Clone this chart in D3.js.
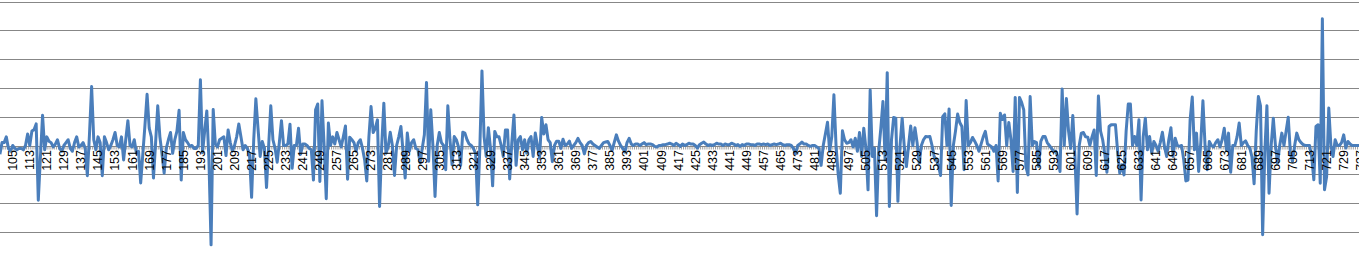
<!DOCTYPE html>
<html>
<head>
<meta charset="utf-8">
<script src="https://cdn.jsdelivr.net/npm/d3@7"></script>
<style>
  body { margin: 0; background: #fff; overflow: hidden; }
  svg { display: block; }
</style>
</head>
<body>
<svg id="chart"></svg>
<script>
// Category numbers shown on the x axis (first visible category is 99)
const firstCategory = 99;
const lastCategory = 737;
const categories = d3.range(firstCategory, lastCategory + 1);

// Series values, one per category (99 ... 737)
const values = [
  -3, 1, 1, 3, -1, -2, 0, -1, -1.5, -1,            // 99
  -1, -1.5, 0, 4, 0, 5, 5.5, 7.5, -19, -4,         // 109
  10.5, -1.5, 3, 1.5, 1, -0.5, 0.5, 2, -1, -2,     // 119
  0, 1, 2, -1, -2, 1, 3, -0.5, 0, 1,               // 129
  -1, -10.5, 4, 20.5, 2, -1.5, 3, 1, -10.5, 3,     // 139
  1, -1.5, 0, 2, 4.5, 0, -0.5, 3, -5, 2,           // 149
  8.6, 0, -0.5, 2, -2.7, -2, -13, -3, 7, 17.8,     // 159
  6, 3, -11.3, 1, 13.8, 3, -3, -9.6, -1, 2,        // 169
  4.5, -2.7, 2, 5, 12.2, -12, 4.5, 2, 1, -0.3,     // 179
  0, -1, -1, 0, 22.8, -2.5, 5, 12, -5, -34.5,      // 189
  12.5, 0.5, -0.5, 2, 2.5, 3, -3.5, 5.4, 1, -2,    // 199
  0, 3, 7.5, 3, -1.5, 0, -1, -3, -18, 2,           // 209
  16.2, 6, -3.8, 1.4, -1, -14.6, 0, 13.8, 2, -1,   // 219
  -5.8, 1, 8.6, 0, 0, 0.5, 7.4, -7.9, 0, 0,        // 229
  6, -3, 0.5, 0.5, 0, -1, -1.5, -12, 12.4, 14.4,   // 239
  -12.5, 15.5, 0, -18.5, 7.8, 0, 3, 0.5, 4.5, 2,   // 249
  -0.5, 3, 6.8, -11.7, 2.9, 2, 1, -2, 1, 2,        // 259
  -1, -5, -12.3, 3, 13.5, 4.5, 6, 8.9, -21.2, 0,   // 269
  14.7, -2.7, -0.5, 4.6, 0, -10.4, 0, 3, 6.6, -2,  // 279
  -11.3, 4.3, -2, 1, 2, -1, -1.5, -6, -1, 3.7,     // 289
  21.9, -5.5, 12.4, 0, -17.7, 0, 4.5, 1, 0, -8.4,  // 299
  13.8, 2, -6.7, 3.1, 2, -0.5, -6.9, 4.6, 4.3, 2,  // 309
  0.5, 0, -1, -2.7, -20.6, -1, 25.9, 3, -3.8, 6.2, // 319
  -1, -14, 4.9, 3, 3, 0, -3.8, 5.4, 5.4, -11.6,    // 329
  1, 10.6, -6.9, 2, 3.1, -1.5, 2, -2.7, 2, 3.1,    // 339
  -3.8, 4.3, 0, -4.4, 9.7, 4, 7.2, 2, 1, -5.6,     // 349
  0, 1.5, 1.5, -1, 2.2, 0, 0.5, 1.5, -1, 0,        // 359
  1, 2.5, 1, 0, -2.9, 0, 1, 1.4, 0.5, 0,           // 369
  -0.5, -1, 0, 1, 1.2, 1.4, 0, -1.7, 1, 3.7,       // 379
  1.5, 0, -1, -2.3, 1, 2.5, 0.5, 0, 0.5, 0.5,      // 389
  0, 0.5, 1, 0.3, 0.5, 0.5, 0.3, -0.3, -0.5, 0,    // 399
  0, 0.3, 0.3, 0.5, 0.8, 0.5, 0, 0.8, 0.3, -0.3,   // 409
  0.5, 0, 0.3, 0.8, 0.5, 0.5, 0, -0.9, 0.3, 0.8,   // 419
  1.2, 0.5, 0, 0.3, 0, 0.3, 0.8, 0.5, 0.5, 0,      // 429
  0.5, 0.3, 0.3, 0.8, 0.5, 0, 0.3, -0.3, 0.3, 0,   // 439
  0.5, 0.5, 0.3, 0.3, 0, 0.5, 0.5, 0.3, 0.5, 0.3,  // 449
  0.5, 0, 0.3, 0.5, 0.3, 0.5, 0.8, 0.3, 0, 0.3,    // 459
  0.3, 0, -1, -2.9, 0, 0.5, 1.2, 0.5, 0.5, 0,      // 469
  -0.3, 0, 0, -0.5, -1, -6.9, 0, 4, 8.1, -2,       // 479
  3, 17.6, 0, -10, -16.6, 5.1, 2, 0.8, 1, 2,       // 489
  -0.5, 2.5, -2, 4.5, -3.8, 6, -1, -15.4, 19.3, -3.8, // 499
  -1, -24.4, -2, 6, 15.3, -5, 25.3, -21.2, 2, 9.7, // 509
  9.5, -19.4, 0, 9.5, -0.5, -7.3, 0, 6.8, 0, 6.2,  // 519
  1, -6.1, 0, 2, 3.1, 3, 3.1, 0, -3.8, -5,         // 529
  -7, -10.4, 10, 11, 0, 12.7, -20.8, 0, 5, 10.9,   // 539
  8, 6.6, -8.4, 15.6, 0, 1, 2.8, 1.5, 0, -2,       // 549
  0.5, 3, 4.9, 0.5, 0, -0.5, -2, 0, -12.3, 11.2,   // 559
  9, 10.6, 0, 8, 2, -9, 16.7, -16.3, 16.7, 15,     // 569
  12.4, -7.3, -10.2, 17, 0, 1.4, 1, -7.3, 1.4, 3.1, // 579
  3.1, 1, 0, -1, -2, -2, -4, -9, 19.6, 0,          // 589
  16.3, 5, -1, 10.4, -3.8, -23.8, 0, 4.3, 4.5, 3,  // 599
  2.9, 0, 3, 5.4, -10.4, 17.2, 5, 2, -3, -9.3,     // 609
  6.6, 7.2, 7.2, 7.2, -2, -9.6, -6.7, -10.2, 5, 14.4, // 619
  14.4, 0, 3.1, 0, 8.9, -18.9, 3, 9.5, -1.5, 3.1,  // 629
  -2.7, 1.4, 0, -2, 1, 4.6, -0.5, -3.8, 2, 6.2,    // 639
  -3.8, 2.5, 0, -0.3, 0, -5, -12.3, -12, 8.9, 16.8, // 649
  -1.5, 4.3, -9, 1, 15.5, 0, -8.4, 1.4, 0, -0.5,   // 659
  1, 2, -0.5, 2, 6, -1.5, 4.3, -9.3, 0, 0,         // 669
  3, 7.8, 0, 1, 1.6, 0, -0.9, -4, -13.3, 5,        // 679
  17, 13.8, -31, -2.7, 13.8, -16.6, 0, 9.5, 0, -6.1, // 689
  0, 4.3, 0, 5, 9.8, -2.7, -5.6, 0, 4.3, 2,        // 699
  1, 0.3, 0, 0, 0, -4, -11.9, 6.6, 7.2, -13.1,     // 709
  44, -15.4, -10.8, 13, 0, -3.8, 2, 0, 0, 1,       // 719
  3.7, -0.9, 1.4, 0.5, 0, 0, 0, 0, 0               // 729
];

// Labelled categories (every 8th); 737 sits on the right edge, half cut as in the source
const tickLabels = [105, 113, 121, 129, 137, 145, 153, 161, 169, 177, 185, 193, 201,
  209, 217, 225, 233, 241, 249, 257, 265, 273, 281, 289, 297, 305, 313, 321, 329, 337,
  345, 353, 361, 369, 377, 385, 393, 401, 409, 417, 425, 433, 441, 449, 457, 465, 473,
  481, 489, 497, 505, 513, 521, 529, 537, 545, 553, 561, 569, 577, 585, 593, 601, 609,
  617, 625, 633, 641, 649, 657, 665, 673, 681, 689, 697, 705, 713, 721, 729, 737];

// Gridline values
const gridValues = [-40, -30, -20, -10, 0, 10, 20, 30, 40, 50];

const width = 1359;
const height = 261;

const svg = d3.select("#chart")
    .attr("width", width)
    .attr("height", height);

// Category -> x (the view is a slice of a much wider chart)
const x = d3.scaleLinear().domain([105, 729]).range([12.7, 1343.7]);
const y = d3.scaleLinear().domain([-40, 50]).range([260.7, 1.5]);

// Horizontal gridlines
svg.append("g")
    .selectAll("line")
    .data(gridValues)
    .join("line")
    .attr("x1", 0)
    .attr("x2", width)
    .attr("y1", d => Math.round(y(d)) + 0.5)
    .attr("y2", d => Math.round(y(d)) + 0.5)
    .attr("stroke", "#878787")
    .attr("stroke-width", 1.2);

// Category axis with small tick marks between categories
const axisY = Math.round(y(0)) + 0.5;
svg.append("g")
    .selectAll("line")
    .data(d3.range(firstCategory - 0.5, lastCategory + 1, 1))
    .join("line")
    .attr("x1", d => x(d))
    .attr("x2", d => x(d))
    .attr("y1", axisY)
    .attr("y2", axisY + 3)
    .attr("stroke", "#878787")
    .attr("stroke-width", 0.8);

// Data line
const data = categories.map((c, i) => ({ c: c, v: values[i] }));
const line = d3.line()
    .x(d => x(d.c))
    .y(d => y(d.v));

svg.append("path")
    .datum(data)
    .attr("fill", "none")
    .attr("stroke", "#4a7ebb")
    .attr("stroke-width", 3)
    .attr("stroke-linejoin", "round")
    .attr("d", line);

// Rotated category labels
svg.append("g")
    .selectAll("text")
    .data(tickLabels)
    .join("text")
    .attr("transform", d => `translate(${x(d)}, 150) rotate(-90)`)
    .attr("dy", "0.35em")
    .attr("text-anchor", "end")
    .style("font-family", "'Liberation Sans', Arial, sans-serif")
    .style("font-size", "12.5px")
    .style("fill", "#000")
    .text(d => d);
</script>
</body>
</html>
